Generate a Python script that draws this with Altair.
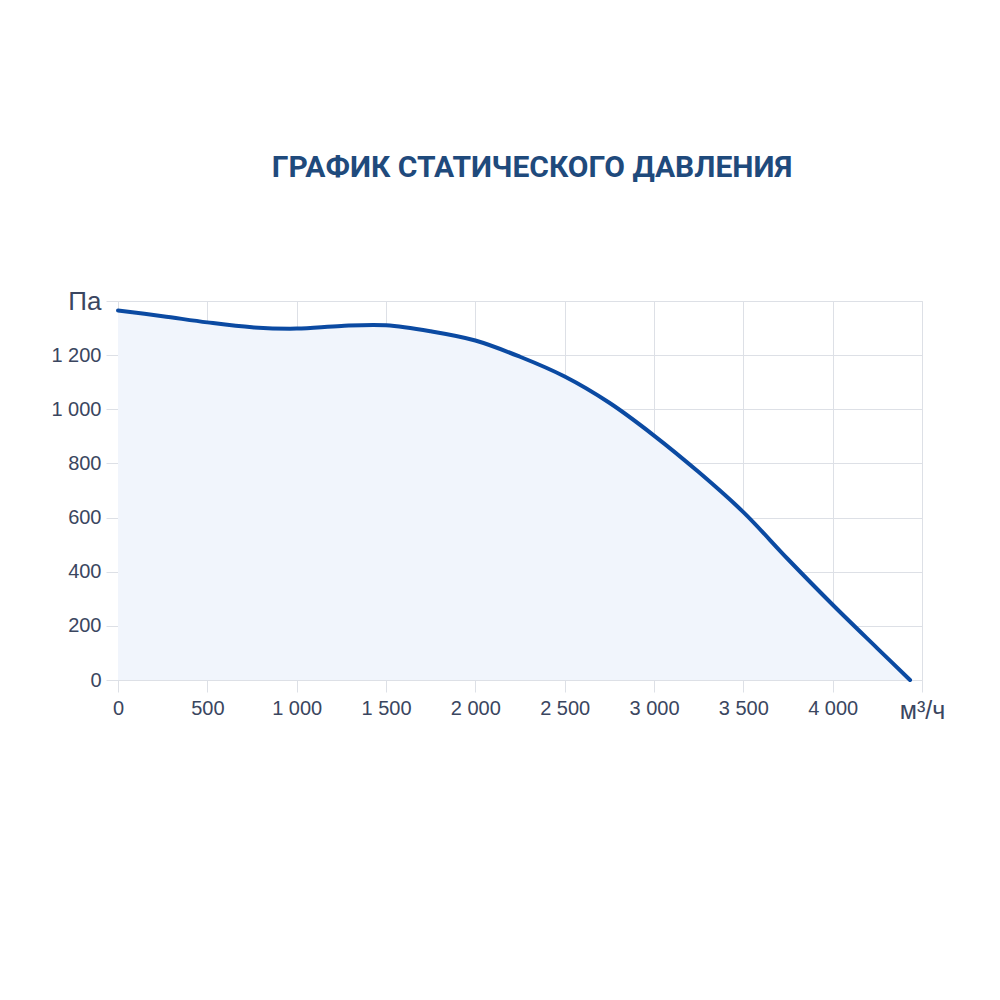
import altair as alt
import pandas as pd

title_text = "ГРАФИК СТАТИЧЕСКОГО ДАВЛЕНИЯ"
x_unit = "м³/ч"
y_unit = "Па"

flow = [0, 250, 500, 750, 1000, 1250, 1500, 1750, 2000, 2250, 2500, 2750,
        3000, 3250, 3500, 3750, 4000, 4250, 4433]
pressure = [1365, 1344, 1321, 1303, 1298, 1308, 1310, 1288, 1254, 1194, 1121, 1024,
            903, 768, 620, 446, 278, 117, 0]

x_ticks = [0, 500, 1000, 1500, 2000, 2500, 3000, 3500, 4000, 4500]
y_ticks = [0, 200, 400, 600, 800, 1000, 1200, 1400]

df = pd.DataFrame({"flow": flow, "pressure": pressure})

grid_color = "#dde0e6"
label_color = "#3a4660"

x_enc = alt.X(
    "flow:Q",
    scale=alt.Scale(domain=[0, 4500], nice=False, zero=True),
    axis=alt.Axis(
        values=x_ticks, title=None, grid=True, gridColor=grid_color,
        tickColor=grid_color, tickSize=12, domain=False,
        labelFont="Liberation Sans", labelColor=label_color,
        labelFontSize={"condition": {"test": "datum.value == 4500", "value": 25}, "value": 20},
        labelPadding=6, labelFlush=False, labelOverlap=False,
        labelExpr=f"datum.value == 4500 ? '{x_unit}' : replace(format(datum.value, ','), ',', ' ')",
    ),
)
y_enc = alt.Y(
    "pressure:Q",
    scale=alt.Scale(domain=[0, 1400], nice=False),
    axis=alt.Axis(
        values=y_ticks, title=None, grid=True, gridColor=grid_color,
        tickColor=grid_color, tickSize=12, domain=False,
        labelFont="Liberation Sans", labelColor=label_color,
        labelFontSize={"condition": {"test": "datum.value == 1400", "value": 26}, "value": 20},
        labelPadding=5, labelFlush=False, labelOverlap=False,
        labelExpr=f"datum.value == 1400 ? '{y_unit}' : replace(format(datum.value, ','), ',', ' ')",
    ),
)

base = alt.Chart(df).encode(x=x_enc, y=y_enc)
area = base.mark_area(color="#f1f5fc", interpolate="catmull-rom")
line = base.mark_line(color="#0b4aa2", strokeWidth=4, interpolate="catmull-rom", strokeCap="round")

chart = (
    alt.layer(area, line)
    .properties(
        width=804, height=379,
        autosize=alt.AutoSizeParams(type="none"),
        padding={"left": 110, "top": 293, "right": 70, "bottom": 90},
        title=alt.TitleParams(
            title_text, font="Roboto", fontWeight="bold", fontSize=30,
            color="#1f4a7c", anchor="middle", frame="group", offset=75, dx=12,
            baseline="bottom",
        ),
    )
    .configure_view(stroke=None)
    .configure(background="white")
)

chart.save("out.html", embed_options={"renderer": "svg", "actions": False})
